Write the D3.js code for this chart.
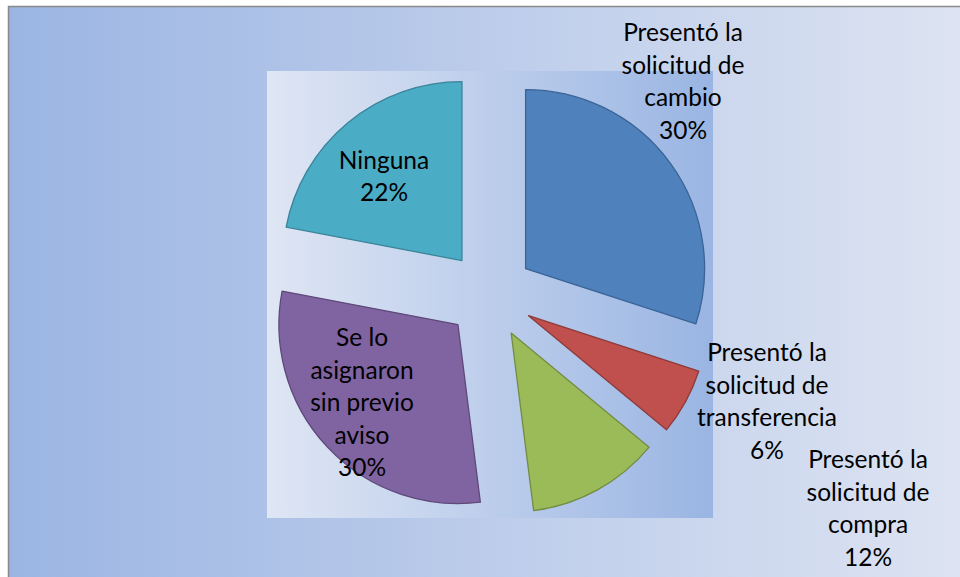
<!DOCTYPE html>
<html>
<head>
<meta charset="utf-8">
<script src="https://cdn.jsdelivr.net/npm/d3@7"></script>
<style>
  html, body { margin: 0; padding: 0; background: #ffffff; }
  svg { display: block; }
  text { font-family: Lato, "Open Sans", sans-serif; fill: #000; }
</style>
</head>
<body>
<svg id="chart" width="960" height="577"></svg>
<script>
// Data
const categories = [
  "Presentó la solicitud de cambio",
  "Presentó la solicitud de transferencia",
  "Presentó la solicitud de compra",
  "Se lo asignaron sin previo aviso",
  "Ninguna"
];
const values = [30, 6, 12, 30, 22];
const labelLines = [
  ["Presentó la", "solicitud de", "cambio"],
  ["Presentó la", "solicitud de", "transferencia"],
  ["Presentó la", "solicitud de", "compra"],
  ["Se lo", "asignaron", "sin previo", "aviso"],
  ["Ninguna"]
];
const fills   = ["#4F81BD", "#C0504D", "#9BBB59", "#8064A2", "#4BACC6"];
const strokes = ["#3A6496", "#8E3A38", "#738C42", "#5E4A79", "#3A8499"];

// Layout
const W = 960, H = 577;
const plot = { x: 267, y: 71, w: 446, h: 447 };
const radius = 179, explode = 44;
const fontSize = 24.5, lineH = 32.5;
// label block centres, relative to the pie centre
const labelAt = [
  [193, -213], [277, 107], [378, 214], [-128, 108], [-106, -118]
];

const svg = d3.select("#chart");
const defs = svg.append("defs");

const outerGrad = defs.append("linearGradient").attr("id", "outerGrad")
  .attr("x1", 0).attr("x2", 1).attr("y1", 0).attr("y2", 0);
outerGrad.append("stop").attr("offset", 0).attr("stop-color", "#9BB5E3");
outerGrad.append("stop").attr("offset", 1).attr("stop-color", "#DEE4F2");

const plotGrad = defs.append("linearGradient").attr("id", "plotGrad")
  .attr("x1", 0).attr("x2", 1).attr("y1", 0).attr("y2", 0);
plotGrad.append("stop").attr("offset", 0).attr("stop-color", "#DFE6F4");
plotGrad.append("stop").attr("offset", 1).attr("stop-color", "#9AB5E3");

// Chart area
svg.append("rect")
  .attr("x", 8.5).attr("y", 6.5)
  .attr("width", W + 10).attr("height", H + 10)
  .attr("fill", "url(#outerGrad)")
  .attr("stroke", "#8A8A8A").attr("stroke-width", 1.5);

// Plot area
svg.append("rect")
  .attr("x", plot.x).attr("y", plot.y)
  .attr("width", plot.w).attr("height", plot.h)
  .attr("fill", "url(#plotGrad)");

const cx = plot.x + plot.w / 2, cy = plot.y + plot.h / 2;
const total = d3.sum(values);

const pie = d3.pie().sort(null).value(d => d.value);
const arc = d3.arc().innerRadius(0).outerRadius(radius);

const data = categories.map((c, i) => ({ name: c, value: values[i], i }));
const arcs = pie(data);

const g = svg.append("g").attr("transform", `translate(${cx},${cy})`);

g.selectAll("path.slice")
  .data(arcs)
  .join("path")
  .attr("class", "slice")
  .attr("d", arc)
  .attr("transform", d => {
    const a = (d.startAngle + d.endAngle) / 2;
    return `translate(${explode * Math.sin(a)},${-explode * Math.cos(a)})`;
  })
  .attr("fill", d => fills[d.data.i])
  .attr("stroke", d => strokes[d.data.i])
  .attr("stroke-width", 1.3)
  .attr("stroke-linejoin", "round");

const fmt = d3.format(".0%");
const labels = g.selectAll("text.lbl")
  .data(arcs)
  .join("text")
  .attr("class", "lbl")
  .attr("text-anchor", "middle")
  .attr("font-size", fontSize);

labels.each(function(d) {
  const i = d.data.i;
  const lines = labelLines[i].concat([fmt(d.value / total)]);
  const [lx, ly] = labelAt[i];
  const top = ly - (lines.length - 1) * lineH / 2;
  d3.select(this).selectAll("tspan")
    .data(lines)
    .join("tspan")
    .attr("x", lx)
    .attr("y", (_, k) => top + k * lineH)
    .attr("dy", "0.35em")
    .text(t => t);
});
</script>
</body>
</html>
